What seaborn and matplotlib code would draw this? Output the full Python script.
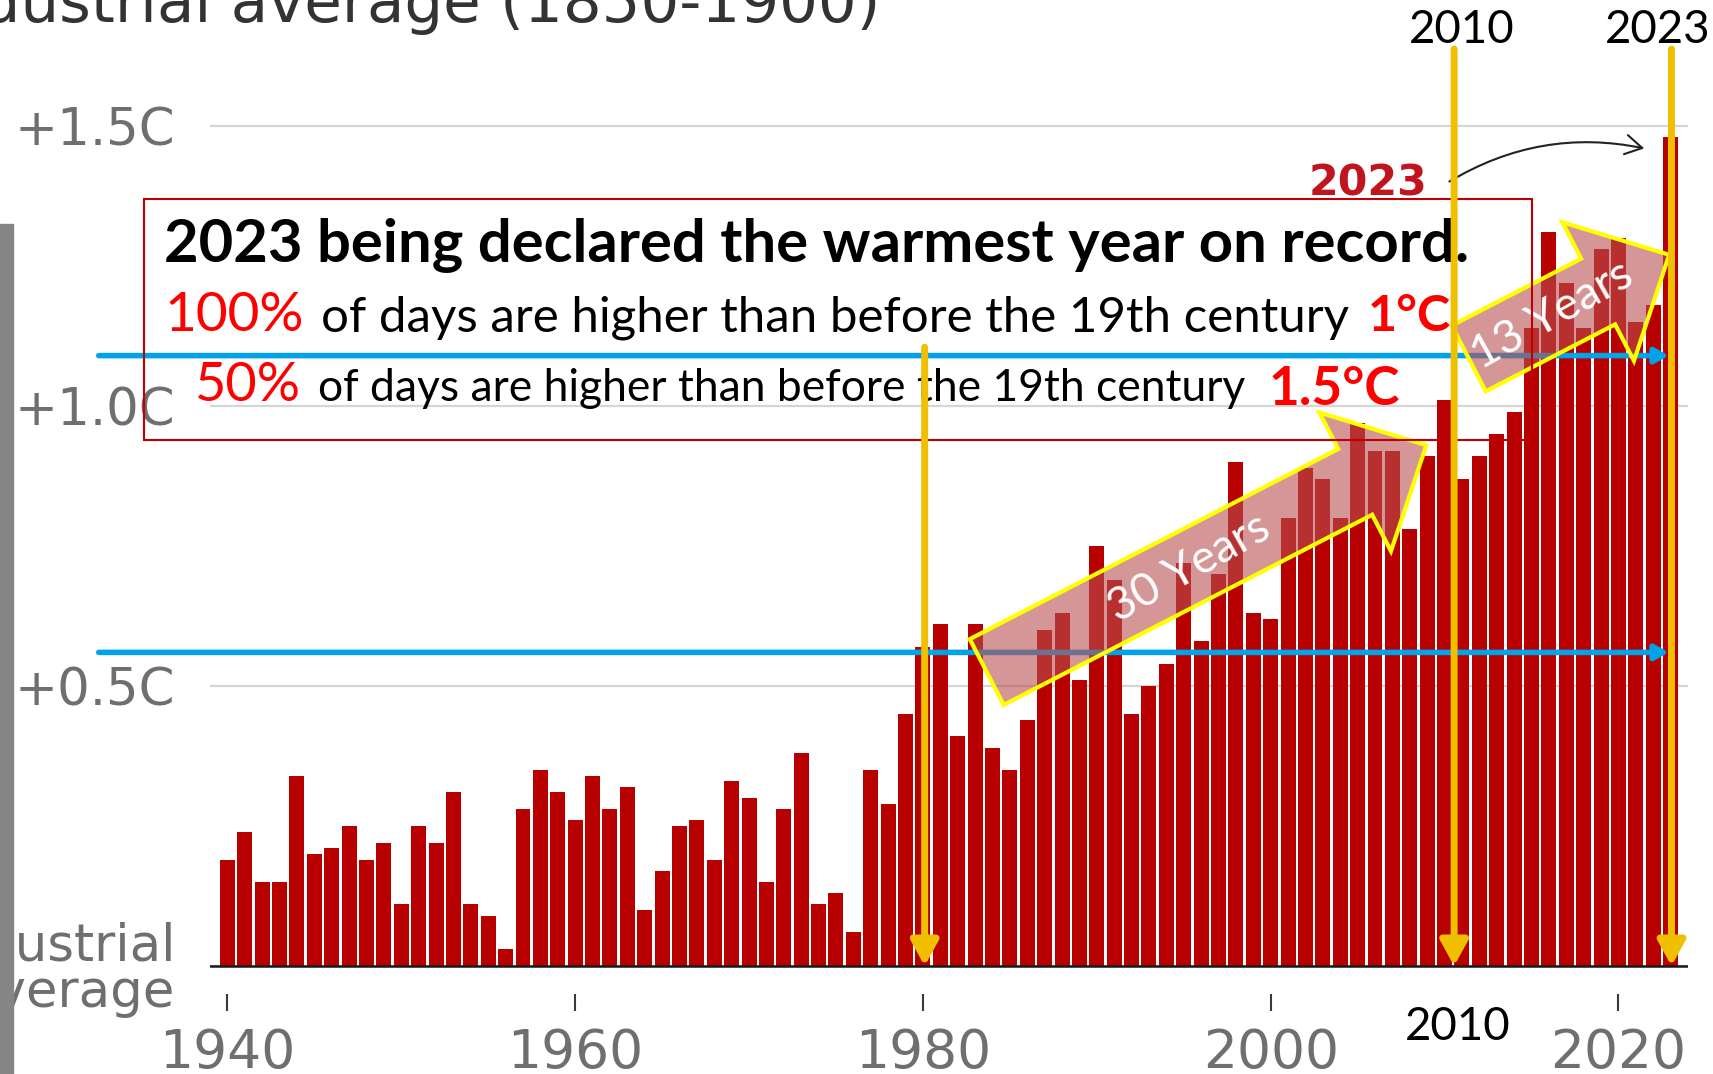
import numpy as np
import matplotlib
matplotlib.use("Agg")
import matplotlib.pyplot as plt
import matplotlib.transforms as mtransforms
from matplotlib.patches import Rectangle, Polygon, FancyArrowPatch
import seaborn as sns

# global temperature compared with the pre-industrial average (1850-1900), degC
years = list(range(1940, 2024))
anomaly = [
    0.19, 0.24, 0.15, 0.15, 0.34, 0.20, 0.21, 0.25, 0.19, 0.22,   # 1940s
    0.11, 0.25, 0.22, 0.31, 0.11, 0.09, 0.03, 0.28, 0.35, 0.31,   # 1950s
    0.26, 0.34, 0.28, 0.32, 0.10, 0.17, 0.25, 0.26, 0.19, 0.33,   # 1960s
    0.30, 0.15, 0.28, 0.38, 0.11, 0.13, 0.06, 0.35, 0.29, 0.45,   # 1970s
    0.57, 0.61, 0.41, 0.61, 0.39, 0.35, 0.44, 0.60, 0.63, 0.51,   # 1980s
    0.75, 0.69, 0.45, 0.50, 0.54, 0.72, 0.58, 0.70, 0.90, 0.63,   # 1990s
    0.62, 0.80, 0.89, 0.87, 0.80, 0.97, 0.92, 0.92, 0.78, 0.91,   # 2000s
    1.01, 0.87, 0.91, 0.95, 0.99, 1.14, 1.31, 1.22, 1.14, 1.28,   # 2010s
    1.30, 1.15, 1.18, 1.48,                                       # 2020s
]

y_ticks = [0, 0.5, 1.0, 1.5]
y_labels = ['Pre-industrial\naverage', '+0.5C', '+1.0C', '+1.5C']
x_ticks = [1940, 1960, 1980, 2000, 2020]

# annotation anchors (year, degC)
marker_years = [1980.1, 2010.55, 2023.05]      # yellow arrows
marker_tops = [1.105, 1.6375, 1.6375]
threshold_levels = [1.09, 0.56]                # blue arrows
threshold_span = (1932.6, 2022.9)
chevrons = [
    ((1983.67, 0.525), (2008.95, 0.930), '30 Years', 0.46),
    ((2011.39, 1.085), (2022.92, 1.270), '13 Years', 0.415),
]

BAR_RED = '#b90000'
YELLOW = '#efbf00'
BLUE = '#00a2e8'
GREY = '#6f6f6f'

sns.set_style('white')
plt.rcParams['font.family'] = 'DejaVu Sans'

W, H = 1713, 1074
fig = plt.figure(figsize=(W / 100, H / 100), dpi=100)
ax = fig.add_axes([210 / W, 1 - 994 / H, 1478 / W, 924 / H])
# image pixel coordinates (origin top-left) for the free-floating decorations
px = mtransforms.Affine2D().scale(1 / W, -1 / H).translate(0, 1) + fig.transFigure
ident = mtransforms.IdentityTransform()

sns.barplot(x=years, y=anomaly, native_scale=True, color=BAR_RED, saturation=1,
            width=0.86, errorbar=None, linewidth=0, ax=ax, zorder=2)
ax.set_xlim(1939.0, 2024.0)
ax.set_ylim(-0.05, 1.6)
sns.despine(ax=ax, left=True, bottom=True)
ax.set_xlabel('')
ax.set_ylabel('')

ax.yaxis.grid(True, color='#d5d5d5', lw=1.6)
ax.xaxis.grid(False)
ax.set_axisbelow(True)
ax.axhline(0, color='#1a1a1a', lw=1.8, zorder=2.5)

ax.set_yticks(y_ticks, y_labels)
ax.set_xticks(x_ticks, [str(y) for y in x_ticks])
ax.tick_params(axis='y', left=False, length=0, pad=25, labelsize=37, labelcolor=GREY)
ax.tick_params(axis='x', bottom=True, length=12, width=1.5, color='#3a3a3a',
               pad=12, labelsize=38.5, labelcolor=GREY)
ax.get_yticklabels()[0].set_linespacing(0.92)

# blue threshold arrows
for lvl in threshold_levels:
    ax.add_patch(FancyArrowPatch((threshold_span[0], lvl), (threshold_span[1], lvl),
                                 arrowstyle='-|>,head_length=0.8,head_width=0.45',
                                 mutation_scale=10, color=BLUE, lw=4,
                                 shrinkA=0, shrinkB=0, clip_on=False, zorder=3))

# yellow block arrows with the number of years
renderer = fig.canvas.get_renderer()


def fit(t, width):
    w = t.get_window_extent(renderer).width
    t.set_fontsize(t.get_fontsize() * width / w)


for (x0, y0), (x1, y1), label, frac in chevrons:
    p0, p1 = ax.transData.transform([(x0, y0), (x1, y1)])
    d = p1 - p0
    L = np.hypot(*d)
    u = d / L
    n = np.array([-u[1], u[0]])
    bw, hw, hl = 37, 78, 80
    neck = p0 + u * (L - hl)
    pts = [p0 + n * bw, neck + n * bw, neck + n * hw, p1,
           neck - n * hw, neck - n * bw, p0 - n * bw]
    ax.add_patch(Polygon(pts, closed=True, transform=ident, facecolor='#b85050',
                         alpha=0.6, edgecolor='none', zorder=4, clip_on=False))
    ax.add_patch(Polygon(pts, closed=True, transform=ident, fill=False,
                         edgecolor='#ffff00', lw=3, joinstyle='miter', zorder=4.2,
                         clip_on=False))
    c = p0 + u * (frac * L)
    t = ax.text(c[0], c[1], label, transform=ident, color='white', family='Lato',
                fontsize=26, ha='center', va='center', zorder=4.5)
    fit(t, 178)
    t.set_rotation(np.degrees(np.arctan2(d[1], d[0])) + 2)
    t.set_rotation_mode('anchor')

# red headline box
ax.add_patch(Rectangle((144, 199), 1388, 241, transform=px, fill=False,
                       ec='#c00000', lw=1.5, clip_on=False, zorder=5))
box_lines = [
    ('2023 being declared the warmest year on record.', 164, 262, 'black', 'bold', 1303),
    ('100%', 164, 331, '#ff0000', 'normal', 140),
    ('of days are higher than before the 19th century', 321, 331, 'black', 'normal', 1029),
    ('1°C', 1368, 331, '#ff0000', 'bold', 83),
    ('50%', 195, 401, '#ff0000', 'normal', 106),
    ('of days are higher than before the 19th century', 318, 401, 'black', 'normal', 927),
    ('1.5°C', 1269, 405, '#ff0000', 'bold', 131),
]
for s, x, y, col, wt, width in box_lines:
    t = ax.text(x, y, s, transform=px, color=col, fontweight=wt, family='Lato',
                fontsize=30, ha='left', va='baseline', zorder=5, clip_on=False)
    fit(t, width)

# "2023" record label with curved pointer
t = ax.text(1368, 195, '2023', transform=px, color='#c0141e', fontweight='bold',
            fontsize=28, ha='center', va='baseline', zorder=5)
fit(t, 119)
ax.add_patch(FancyArrowPatch((1447, 183), (1647, 149), transform=px,
                             connectionstyle='arc3,rad=-0.2',
                             arrowstyle='->,head_length=0.6,head_width=0.35',
                             mutation_scale=20, lw=1.5, color='#222222',
                             clip_on=False, zorder=5))

# yellow year markers
for yr, top in zip(marker_years, marker_tops):
    ax.add_patch(FancyArrowPatch((yr, top), (yr, 0),
                                 arrowstyle='-|>,head_length=1.0,head_width=0.55',
                                 mutation_scale=15, color=YELLOW, lw=5,
                                 shrinkA=0, shrinkB=0, clip_on=False, zorder=6))
for s, x, y in [('2010', 1462, 43), ('2023', 1658, 43), ('2010', 1458, 1040)]:
    t = ax.text(x, y, s, transform=px, color='black', family='Lato', fontsize=34,
                ha='center', va='baseline', zorder=6, clip_on=False)
    fit(t, 106)

fig.text(880 / W, 1 - 22 / H, 'Global temperatures compared with pre-industrial average (1850-1900)',
         ha='right', va='baseline', fontsize=44, color='#333333')
fig.add_artist(Rectangle((0, 0), 13 / W, 850 / H, transform=fig.transFigure,
                         color='#858585', zorder=10))

fig.savefig('out.png', dpi=100)
